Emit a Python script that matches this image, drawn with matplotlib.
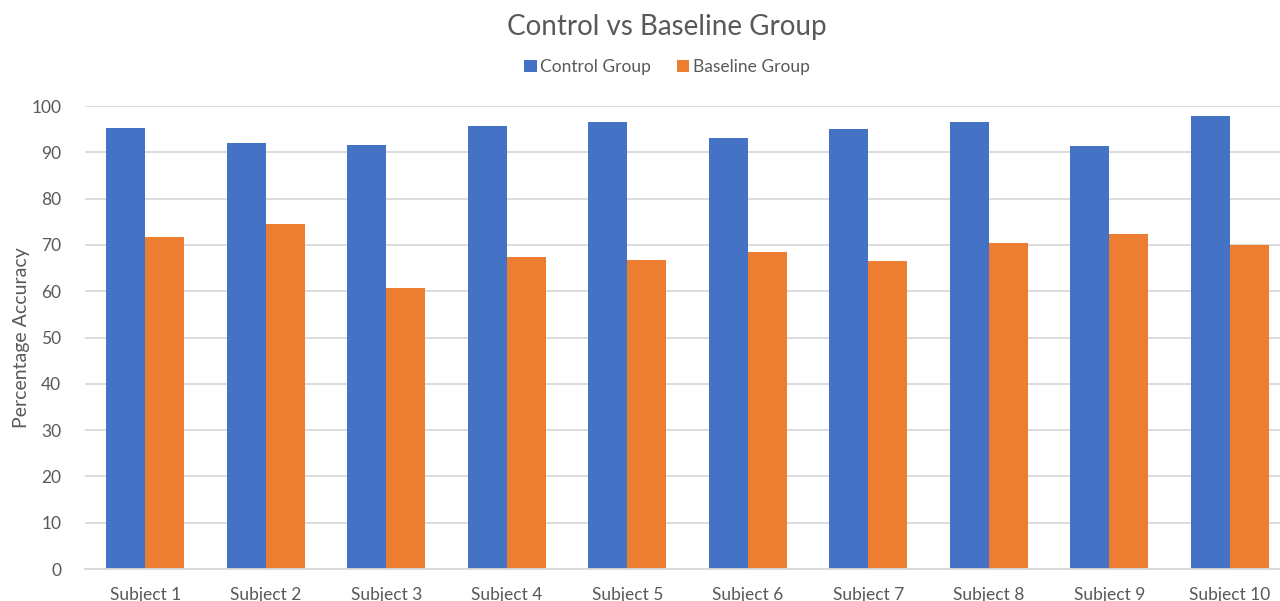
import matplotlib
matplotlib.use("Agg")
import matplotlib.pyplot as plt
import numpy as np

subjects = ["Subject 1", "Subject 2", "Subject 3", "Subject 4", "Subject 5",
            "Subject 6", "Subject 7", "Subject 8", "Subject 9", "Subject 10"]
control = [95.3, 92.0, 91.6, 95.7, 96.5, 93.2, 95.0, 96.5, 91.3, 97.8]
baseline = [71.8, 74.6, 60.6, 67.4, 66.8, 68.4, 66.5, 70.5, 72.4, 70.0]
yticks = [0, 10, 20, 30, 40, 50, 60, 70, 80, 90, 100]

plt.rcParams['font.family'] = ['Lato', 'DejaVu Sans']
text_color = "#595959"
grid_color = "#D9D9D9"
blue = "#4472C4"
orange = "#ED7D31"

fig = plt.figure(figsize=(12.8, 6.01), dpi=100)
ax = fig.add_axes([0.0664, 0.0532, 0.9414, 0.7704])

x = np.arange(len(subjects))
w = 0.325
ax.bar(x - w / 2, control, width=w, color=blue, label="Control Group", zorder=3)
ax.bar(x + w / 2, baseline, width=w, color=orange, label="Baseline Group", zorder=3)

ax.set_xlim(-0.5, len(subjects) - 0.5)
ax.set_ylim(0, 100)
ax.set_yticks(yticks)
ax.set_xticks(x)
ax.set_xticklabels(subjects)
ax.tick_params(axis='both', length=0, labelsize=12.5, colors=text_color)
ax.tick_params(axis='y', pad=17)
ax.tick_params(axis='x', pad=13)
ax.yaxis.grid(True, color=grid_color, linewidth=1.3, zorder=0)
for side in ("top", "right", "left"):
    ax.spines[side].set_visible(False)
ax.spines["bottom"].set_color(grid_color)
ax.spines["bottom"].set_linewidth(1.3)
ax.spines["bottom"].set_zorder(4)

ax.set_ylabel("Percentage Accuracy", fontsize=14, color=text_color)
ax.yaxis.set_label_coords(-0.046, 0.5)

fig.text(0.521, 0.955, "Control vs Baseline Group", ha="center", va="center",
         fontsize=20, color=text_color)

leg = fig.legend(loc="center", bbox_to_anchor=(0.521, 0.888), ncol=2, frameon=False,
                 fontsize=12.5, handlelength=0.7, handleheight=0.7,
                 handletextpad=0.2, columnspacing=1.5)
for t in leg.get_texts():
    t.set_color(text_color)

fig.savefig("out.png", dpi=100)
